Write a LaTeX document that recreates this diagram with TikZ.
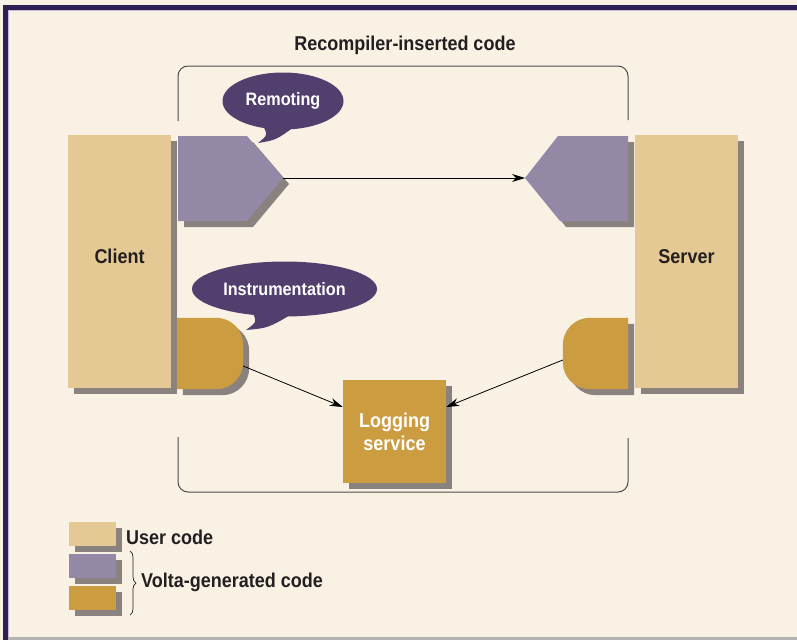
\documentclass[tikz,border=0pt]{standalone}
\usepackage{fontspec}
\newfontfamily\figfont[FakeStretch=0.9]{Liberation Sans}
\usepackage{tikz}
\usetikzlibrary{arrows.meta}
\usetikzlibrary{shapes.geometric}
\usetikzlibrary{shadows}
\usetikzlibrary{decorations.pathreplacing}

\definecolor{pagebg}{HTML}{F8F1E4}
\definecolor{framedark}{HTML}{2E1F52}
\definecolor{framelight}{HTML}{C9B9D6}
\definecolor{usertan}{HTML}{E5C994}
\definecolor{voltalav}{HTML}{9388A6}
\definecolor{voltagold}{HTML}{CC9C40}
\definecolor{shadowgray}{HTML}{8A827E}
\definecolor{bubblepurple}{HTML}{51406E}
\definecolor{txtdark}{HTML}{231F20}

\begin{document}
\begin{tikzpicture}[x=1pt,y=-1pt,
		>={Stealth[length=13pt,width=8pt]},
		boxshadow/.style={drop shadow={shadow xshift=6pt,shadow yshift=-6pt,fill=shadowgray,opacity=1}},
		lbl/.style={inner sep=0pt,text=txtdark,font=\figfont\bfseries\fontsize{20}{23}\selectfont},
		block/.style={rectangle,fill=usertan,inner sep=0pt,boxshadow,lbl},
		bubble/.style={ellipse,fill=bubblepurple,inner sep=0pt,text=white,font=\figfont\bfseries\fontsize{18}{21}\selectfont},
		legbox/.style={rectangle,inner sep=0pt,minimum width=47pt,minimum height=24pt,boxshadow}]
			\useasboundingbox (0,0) rectangle (797,640);
			\fill[pagebg] (0,0) rectangle (797,640);
			
			% frame
			
			\fill[framedark] (3,5) rectangle (797,10);
			\fill[framedark] (3,5) rectangle (8,640);
			\fill[framelight] (8,10) rectangle (797,11);
			\fill[framelight] (8,10) rectangle (9,637);
			\fill[black!30] (8,637) rectangle (797,640);
			
			% recompiler bracket
			
			\node[lbl] (recomp) at (405,45) {Recompiler-inserted code};
			\draw[black!70,line width=1pt,rounded corners=10pt] (178,121) -- (178,66) -- (628,66) -- (628,120);
			\draw[black!70,line width=1pt,rounded corners=10pt] (178,437) -- (178,492) -- (628,492) -- (628,438);
			
			% client and server
			
			\node[block,minimum width=103pt,minimum height=253pt,text depth=10pt] (client) at (119.5,261.5) {Client};
			\node[block,minimum width=103pt,minimum height=253pt,text depth=10pt] (server) at (686.5,261.5) {Server};
			
			% remoting
			
			\fill[voltalav,boxshadow] (178,136) -- (247,136) -- (283,178) -- (247,221) -- (178,221) -- cycle;
			\fill[voltalav,boxshadow] (628,136) -- (558,136) -- (525,178) -- (560,221) -- (628,221) -- cycle;
			\coordinate (remtipL) at (283,178);
			\coordinate (remtipR) at (525,178);
			\draw[->,line width=0.8pt] (remtipL) -- (remtipR);
			
			\node[bubble,minimum width=121pt,minimum height=57pt] (remBub) at (283,101) {Remoting};
			\fill[bubblepurple] (262,124) .. controls (268,135) .. (258,143) .. controls (276,140) .. (294,127) -- cycle;
			
			% instrumentation
			
			\node[inner sep=0pt,minimum width=66pt,minimum height=71pt] (instL) at (210,353.5) {};
			\node[inner sep=0pt,minimum width=65pt,minimum height=71pt] (instR) at (595.5,353.5) {};
			\fill[voltagold,boxshadow] (instL.south west) rectangle (instL.north) [rounded corners=27pt] (instL.south west) rectangle (instL.north east);
			\fill[voltagold,boxshadow] (instR.south) rectangle (instR.north east) [rounded corners=27pt] (instR.south west) rectangle (instR.north east);
			
			\node[bubble,minimum width=185pt,minimum height=55pt] (instBub) at (284.5,289) {Instrumentation};
			\fill[bubblepurple] (252,311) .. controls (257,322) .. (246,330) .. controls (268,328) .. (292,314) -- cycle;
			
			% logging
			
			\node[block,fill=voltagold,text=white,align=center,minimum width=103pt,minimum height=103pt] (log) at (394.5,431.5) {Logging\\service};
			\draw[->,line width=0.8pt] ([yshift=-12.5pt]instL.east) -- ([yshift=24.5pt]log.west);
			\draw[->,line width=0.8pt] ([yshift=-6.5pt]instR.west) -- ([yshift=24.5pt]log.east);
			
			% legend
			
			\node[legbox,fill=usertan] (legUser) at (92.5,534) {};
			\node[legbox,fill=voltalav] (legLav) at (92.5,566) {};
			\node[legbox,fill=voltagold] (legGold) at (92.5,597.5) {};
			\node[lbl,anchor=west] (legUserTxt) at (126,537) {User code};
			\draw[txtdark,line width=0.7pt,decorate,decoration={brace,amplitude=6pt}] (130,551) -- (130,615);
			\node[lbl,anchor=west] (legVoltaTxt) at (141,582) {Volta-generated code};
		\end{tikzpicture}
\end{document}
